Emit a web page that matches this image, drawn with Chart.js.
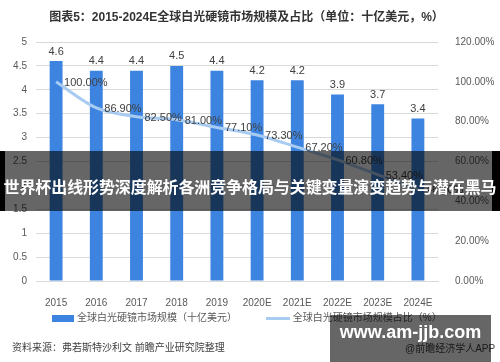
<!DOCTYPE html>
<html>
<head>
<meta charset="utf-8">
<script src="https://cdn.jsdelivr.net/npm/chart.js@4"></script>
<style>
  html, body { margin: 0; padding: 0; background: #fff; }
  #wrap { position: relative; width: 500px; height: 362px; overflow: hidden;
          font-family: "Liberation Sans", "Noto Sans CJK SC", sans-serif; }
  canvas { position: absolute; left: 0; top: 0; }
  .txt { position: absolute; white-space: nowrap; }
  #title { left: 0; width: 493px; top: 7px; text-align: center; font-size: 12px; font-weight: bold; color: #333; }
  #legend { left: 52px; top: 309px; font-size: 10px; color: #595959; }
  .sw { display: inline-block; vertical-align: middle; margin-right: 3px; }
  #source { left: 12px; top: 339px; font-size: 10px; color: #404040; }
  #app { left: 405px; top: 340px; font-size: 10px; color: #404040; }
  #banner { left: 0; top: 151px; width: 500px; height: 60px; background: rgba(0,0,0,0.6);
            border-left: 5px solid #000; border-right: 8px solid #000; box-sizing: border-box; }
  #bannerText { left: 0; width: 500px; top: 174px; text-align: center; font-size: 16px; font-weight: bold; color: #fff;
                letter-spacing: -0.1px; }
  #site { left: 330px; top: 315px; width: 161px; height: 47px; background: rgba(0,0,0,0.6); }
  #siteText { left: 330px; width: 161px; top: 322px; text-align: center; font-size: 18px; font-weight: bold; color: #fff; }
</style>
</head>
<body>
<div id="wrap">
  <canvas id="chart" width="500" height="362"></canvas>
  <div class="txt" id="title">图表5：2015-2024E全球白光硬镜市场规模及占比（单位：十亿美元，%）</div>
  <div class="txt" id="legend">
    <span class="sw" style="width:22px;height:7px;background:#3c84e0"></span>全球白光硬镜市场规模（十亿美元）
    <span class="sw" style="width:24px;height:3px;background:#a8cbf2;margin-left:26px"></span>全球白光硬镜市场规模占比（%）
  </div>
  <div class="txt" id="source">资料来源：弗若斯特沙利文 前瞻产业研究院整理</div>
  <div class="txt" id="app">@前瞻经济学人APP</div>
  <div class="txt" id="banner"></div>
  <div class="txt" id="bannerText">世界杯出线形势深度解析各洲竞争格局与关键变量演变趋势与潜在黑马</div>
  <div class="txt" id="site"></div>
  <div class="txt" id="siteText">www.am-jjb.com</div>
</div>
<script>
// 数据
var years = ['2015', '2016', '2017', '2018', '2019', '2020E', '2021E', '2022E', '2023E', '2024E'];
var marketSize = [4.6, 4.4, 4.4, 4.5, 4.4, 4.2, 4.2, 3.9, 3.7, 3.4]; // 十亿美元
var marketShare = [100.0, 86.9, 82.5, 81.0, 77.1, 73.3, 67.2, 60.8, 53.4, 46.1]; // %

var numFont = '"Liberation Sans", "Noto Sans CJK SC", sans-serif';

// 数据标签
var labelPlugin = {
    id: 'valueLabels',
    afterDatasetsDraw: function(chart) {
        var ctx = chart.ctx;
        ctx.save();
        ctx.fillStyle = '#404040';
        ctx.font = '11px ' + numFont;
        chart.getDatasetMeta(0).data.forEach(function(bar, i) {
            ctx.textAlign = 'center';
            ctx.textBaseline = 'bottom';
            ctx.fillText(String(marketSize[i]), bar.x, bar.y - 4);
        });
        chart.getDatasetMeta(1).data.forEach(function(pt, i) {
            ctx.textAlign = 'left';
            ctx.textBaseline = 'middle';
            ctx.fillText(marketShare[i].toFixed(2) + '%', pt.x + 8, pt.y + 1);
        });
        ctx.restore();
    }
};

document.addEventListener('DOMContentLoaded', function() {
    var ctx = document.getElementById('chart').getContext('2d');
    new Chart(ctx, {
        type: 'bar',
        data: {
            labels: years,
            datasets: [{
                label: '全球白光硬镜市场规模（十亿美元）',
                data: marketSize,
                backgroundColor: '#3c84e0',
                barPercentage: 0.32,
                categoryPercentage: 1,
                yAxisID: 'y',
                order: 2
            }, {
                type: 'line',
                label: '全球白光硬镜市场规模占比（%）',
                data: marketShare,
                borderColor: '#a8cbf2',
                borderWidth: 3,
                tension: 0.3,
                pointRadius: 0,
                yAxisID: 'y1',
                order: 1
            }]
        },
        options: {
            responsive: false,
            animation: false,
            devicePixelRatio: 1,
            layout: { padding: { top: 42, bottom: 51, left: 0, right: 0 } },
            plugins: {
                legend: { display: false },
                title: { display: false },
                tooltip: { enabled: false }
            },
            scales: {
                x: {
                    grid: { display: false },
                    border: { color: '#d9d9d9' },
                    ticks: { color: '#595959', font: { size: 10, family: numFont }, padding: 8 },
                    afterFit: function(axis) { axis.height = 30; }
                },
                y: {
                    min: 0, max: 5,
                    grid: { color: '#d9d9d9', drawTicks: false },
                    border: { display: false },
                    ticks: {
                        stepSize: 0.5, color: '#595959', padding: 9,
                        font: { size: 10, family: numFont },
                        callback: function(v) { return String(v); }
                    },
                    afterFit: function(axis) { axis.width = 36; }
                },
                y1: {
                    position: 'right',
                    min: 0, max: 120,
                    grid: { display: false },
                    border: { display: false },
                    ticks: {
                        stepSize: 20, color: '#595959', padding: 9,
                        font: { size: 10, family: numFont },
                        callback: function(v) { return v.toFixed(2) + '%'; }
                    },
                    afterFit: function(axis) { axis.width = 62; }
                }
            }
        },
        plugins: [labelPlugin]
    });
});
</script>
</body>
</html>
